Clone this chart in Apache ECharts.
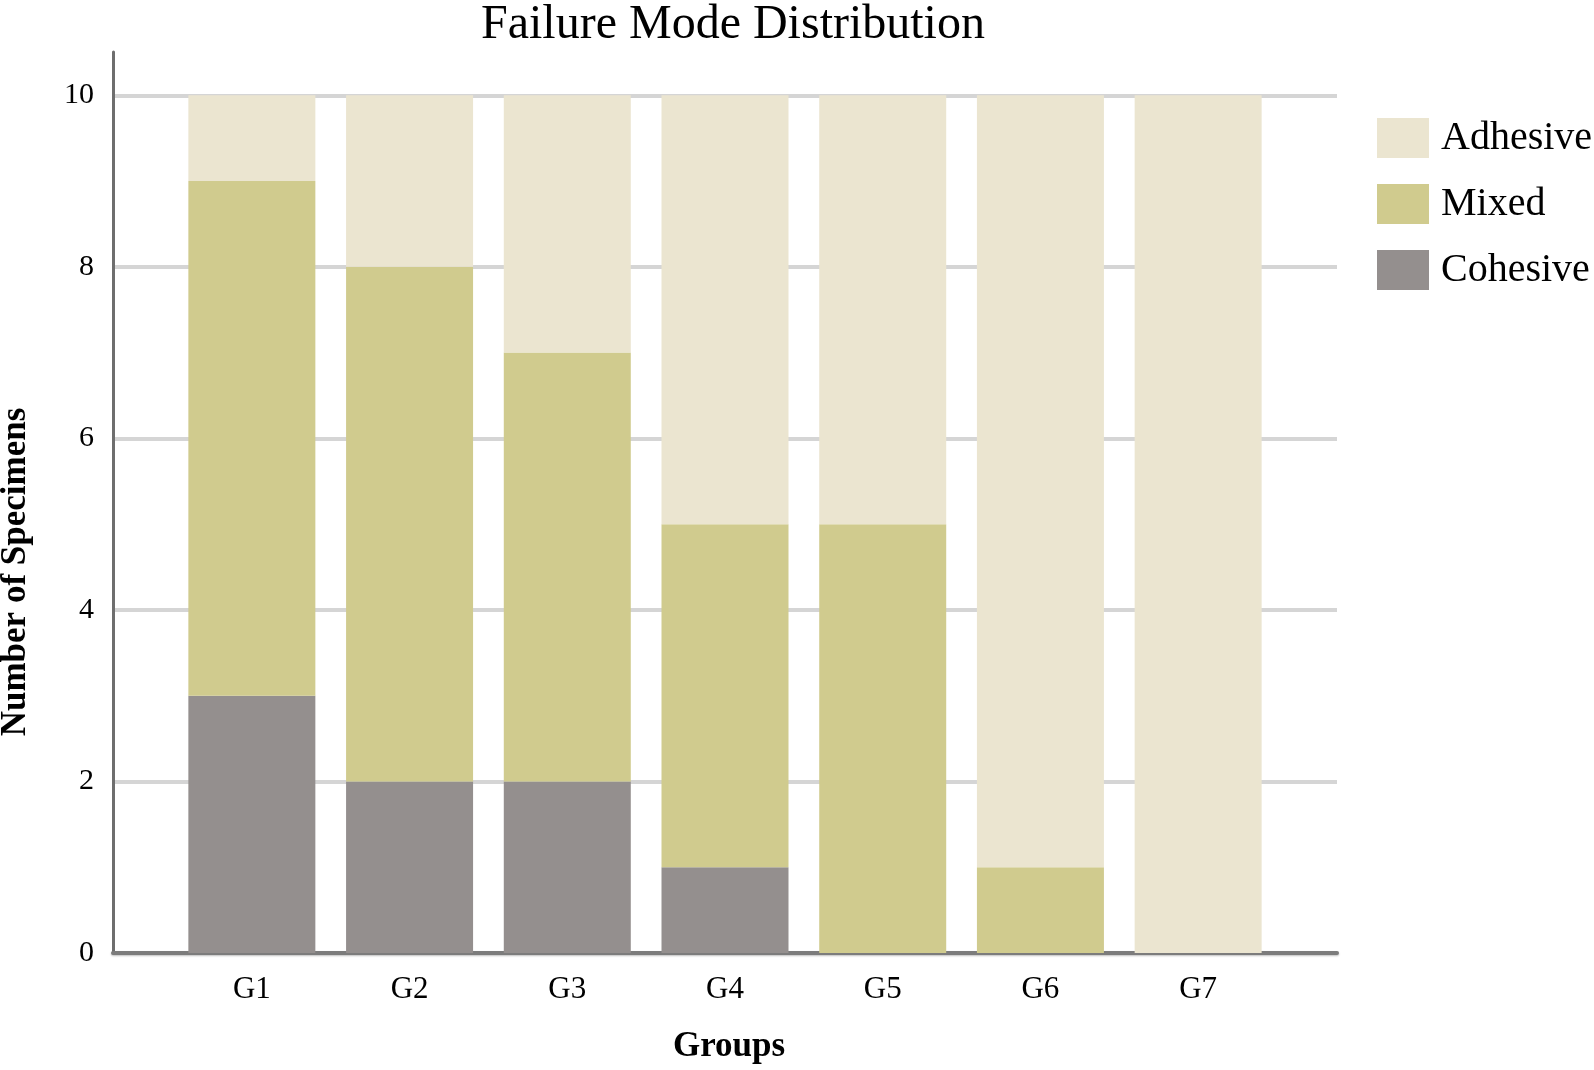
<!DOCTYPE html>
<html>
<head>
<meta charset="utf-8">
<script src="https://cdn.jsdelivr.net/npm/echarts@6/dist/echarts.min.js"></script>
<style>
html,body{margin:0;padding:0;background:#fff;}
#chart{width:1594px;height:1070px;}
</style>
</head>
<body>
<div id="chart"></div>
<script>
const categories = ['G1','G2','G3','G4','G5','G6','G7'];
const cohesive = [3,2,2,1,0,0,0];
const mixed    = [6,6,5,4,5,1,0];
const adhesive = [1,2,3,5,5,9,10];
const yTicks = [0,2,4,6,8,10];

const FONT = 'Liberation Serif';
const Y_MAX = 10.505;

const chart = echarts.init(document.getElementById('chart'), null, {renderer:'canvas'});
const barW = 127;
chart.setOption({
  backgroundColor:'#ffffff',
  animation:false,
  title:{
    text:'Failure Mode Distribution',
    left:476, top:-4,
    textStyle:{fontFamily:FONT,fontWeight:'normal',fontSize:48,color:'#000'}
  },
  legend:{
    orient:'vertical',
    left:1372, top:113,
    itemWidth:52, itemHeight:40, itemGap:26,
    icon:'rect',
    data:['Adhesive','Mixed','Cohesive'],
    textStyle:{fontFamily:FONT,fontSize:40,color:'#000',lineHeight:40,padding:[0,0,0,7]}
  },
  grid:[
    {left:113, right:257, top:52, bottom:117, containLabel:false},
    {left:173, right:317, top:52, bottom:117, containLabel:false}
  ],
  xAxis:[
    {
      type:'value', gridIndex:0, min:0, max:1,
      axisLine:{show:true,onZero:false,lineStyle:{color:'#7c7c7c',width:4,shadowColor:'rgba(0,0,0,0.25)',shadowBlur:2,shadowOffsetY:1}},
      axisTick:{show:false}, splitLine:{show:false}, axisLabel:{show:false}
    },
    {
      type:'category', gridIndex:1, data:categories,
      axisLine:{show:false}, axisTick:{show:false}, splitLine:{show:false},
      axisLabel:{fontFamily:FONT,fontSize:31,color:'#000',margin:21}
    }
  ],
  yAxis:[
    {
      type:'value', gridIndex:0,
      min:0, max:Y_MAX, interval:2,
      axisLine:{show:true,onZero:false,lineStyle:{color:'#6e6e6e',width:3}},
      axisTick:{show:false},
      splitLine:{show:true,showMaxLine:false,showMinLine:false,lineStyle:{color:'#d5d5d5',width:4}},
      axisLabel:{customValues:yTicks,fontFamily:FONT,fontSize:30,color:'#000',margin:19}
    },
    {
      type:'value', gridIndex:1,
      min:0, max:Y_MAX,
      show:false
    }
  ],
  graphic:[
    {type:'text', x:16, y:572, rotation:Math.PI/2,
     style:{text:'Number of Specimens', fontFamily:FONT, fontWeight:'bold', fontSize:35, fill:'#000', align:'center', verticalAlign:'middle'}},
    {type:'text', x:729, y:1047,
     style:{text:'Groups', fontFamily:FONT, fontWeight:'bold', fontSize:35, fill:'#000', align:'center', verticalAlign:'middle'}}
  ],
  series:[
    {name:'Cohesive', type:'bar', stack:'t', xAxisIndex:1, yAxisIndex:1, barWidth:barW, data:cohesive, itemStyle:{color:'#948f8e'}},
    {name:'Mixed', type:'bar', stack:'t', xAxisIndex:1, yAxisIndex:1, barWidth:barW, data:mixed, itemStyle:{color:'#d0cb8e'}},
    {name:'Adhesive', type:'bar', stack:'t', xAxisIndex:1, yAxisIndex:1, barWidth:barW, data:adhesive, itemStyle:{color:'#ebe5d0'}}
  ]
});
</script>
</body>
</html>
